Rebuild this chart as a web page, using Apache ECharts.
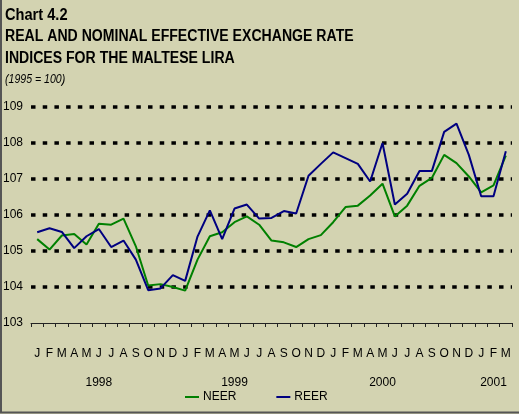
<!DOCTYPE html>
<html>
<head>
<meta charset="utf-8">
<script src="https://cdn.jsdelivr.net/npm/echarts@6/dist/echarts.min.js"></script>
<style>
  html, body { margin: 0; padding: 0; background: #d3d3b1; }
  #chart { width: 519px; height: 414px; }
</style>
</head>
<body>
<div id="chart"></div>
<script>
// monthly categories, Jan 1998 .. Mar 2001
var months = [
  'J','F','M','A','M','J','J','A','S','O','N','D',
  'J','F','M','A','M','J','J','A','S','O','N','D',
  'J','F','M','A','M','J','J','A','S','O','N','D',
  'J','F','M'
];
var years = ['1998', '1999', '2000', '2001'];
var yearLabelIdx = [5, 16, 28, 37];

var neer = [
  105.33, 105.04, 105.43, 105.47, 105.18, 105.76, 105.73, 105.90, 105.13, 104.04, 104.08, 104.00,
  103.90, 104.76, 105.41, 105.52, 105.80, 105.96, 105.73, 105.29, 105.24, 105.11, 105.33, 105.44,
  105.80, 106.22, 106.26, 106.54, 106.87, 105.96, 106.26, 106.81, 107.03, 107.67, 107.44, 107.07,
  106.63, 106.82, 107.65
];
var reer = [
  105.52, 105.63, 105.53, 105.08, 105.41, 105.61, 105.11, 105.29, 104.76, 103.91, 103.96, 104.33,
  104.17, 105.40, 106.13, 105.33, 106.18, 106.29, 105.90, 105.92, 106.11, 106.04, 107.09, 107.42,
  107.74, 107.58, 107.42, 106.93, 108.00, 106.29, 106.59, 107.22, 107.22, 108.31, 108.54, 107.67,
  106.52, 106.52, 107.77
];

var font = '"Liberation Sans", Arial, sans-serif';

var chart = echarts.init(document.getElementById('chart'));

function titleText(str, y, size, weight, style, sx) {
  return {
    type: 'text', x: 5, y: y, scaleX: sx,
    style: {
      text: str, x: 0, y: 0,
      font: (style || '') + ' ' + weight + ' ' + size + 'px ' + font,
      fill: '#000', textAlign: 'left', verticalAlign: 'middle'
    }
  };
}

chart.setOption({
  animation: false,
  backgroundColor: '#d3d3b1',
  textStyle: { fontFamily: font },
  graphic: [
    titleText('Chart 4.2', 15, 17, 'bold', '', 0.86),
    titleText('REAL AND NOMINAL EFFECTIVE EXCHANGE RATE', 37, 16, 'bold', '', 0.88),
    titleText('INDICES FOR THE MALTESE LIRA', 59, 16, 'bold', '', 0.88),
    titleText('(1995 = 100)', 80, 12, 'normal', 'italic', 0.88),
    { type: 'line', shape: { x1: 1, y1: 0, x2: 1, y2: 413 }, style: { stroke: '#555', lineWidth: 2 } },
    { type: 'line', shape: { x1: 0, y1: 412.5, x2: 519, y2: 412.5 }, style: { stroke: '#555', lineWidth: 2 } }
  ],
  legend: {
    left: 185, top: 391, padding: 0,
    icon: 'rect', itemWidth: 14, itemHeight: 2, itemGap: 40,
    textStyle: { fontSize: 12, color: '#000', padding: [0, 0, 0, -1] },
    data: ['NEER', 'REER']
  },
  grid: { left: 30, right: 7, top: 107, bottom: 91 },
  xAxis: [
    {
      type: 'category', data: months, boundaryGap: true,
      axisLine: { show: true, lineStyle: { color: '#222', width: 1 } },
      axisTick: { show: true, interval: 0, length: 4, inside: false, lineStyle: { color: '#222', width: 1 } },
      axisLabel: { interval: 0, margin: 25, fontSize: 12, color: '#000' },
      splitLine: { show: false }
    },
    {
      type: 'category', data: months, boundaryGap: true, position: 'bottom',
      axisLine: { show: false }, axisTick: { show: false },
      axisLabel: {
        margin: 54, fontSize: 12, color: '#000',
        interval: function (i) { return yearLabelIdx.indexOf(i) >= 0; },
        formatter: function (v, i) { var k = yearLabelIdx.indexOf(i); return k >= 0 ? years[k] : ''; }
      }
    }
  ],
  yAxis: {
    type: 'value', min: 103, max: 109, interval: 1,
    axisLine: { show: false }, axisTick: { show: false },
    axisLabel: { margin: 8, fontSize: 12, color: '#000' },
    splitLine: {
      lineStyle: {
        color: ['rgba(0,0,0,0)', '#000', '#000', '#000', '#000', '#000', '#000'],
        width: 3.5, type: [4.5, 7.2]
      }
    }
  },
  series: [
    {
      name: 'NEER', type: 'line', data: neer, symbol: 'none',
      lineStyle: { color: '#008000', width: 2 }, itemStyle: { color: '#008000' }
    },
    {
      name: 'REER', type: 'line', data: reer, symbol: 'none',
      lineStyle: { color: '#000080', width: 2 }, itemStyle: { color: '#000080' }
    }
  ]
});
</script>
</body>
</html>
